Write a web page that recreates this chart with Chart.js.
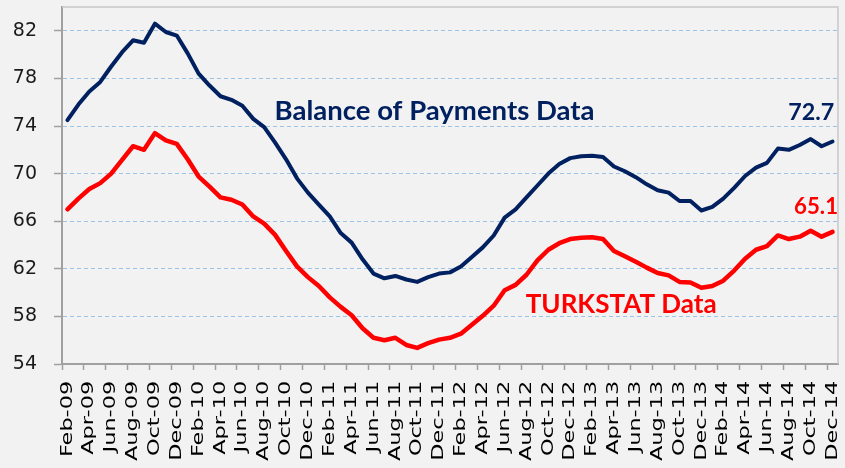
<!DOCTYPE html>
<html><head><meta charset="utf-8">
<script src="https://cdn.jsdelivr.net/npm/chart.js@4.4.1/dist/chart.umd.min.js"></script>
<style>html,body{margin:0;padding:0;background:#f2f2f2;}canvas{display:block;}</style>
</head><body>
<canvas id="c" width="845" height="468"></canvas>
<script>
const months = ['Feb-09','Mar-09','Apr-09','May-09','Jun-09','Jul-09','Aug-09','Sep-09','Oct-09','Nov-09','Dec-09',
'Jan-10','Feb-10','Mar-10','Apr-10','May-10','Jun-10','Jul-10','Aug-10','Sep-10','Oct-10','Nov-10','Dec-10',
'Jan-11','Feb-11','Mar-11','Apr-11','May-11','Jun-11','Jul-11','Aug-11','Sep-11','Oct-11','Nov-11','Dec-11',
'Jan-12','Feb-12','Mar-12','Apr-12','May-12','Jun-12','Jul-12','Aug-12','Sep-12','Oct-12','Nov-12','Dec-12',
'Jan-13','Feb-13','Mar-13','Apr-13','May-13','Jun-13','Jul-13','Aug-13','Sep-13','Oct-13','Nov-13','Dec-13',
'Jan-14','Feb-14','Mar-14','Apr-14','May-14','Jun-14','Jul-14','Aug-14','Sep-14','Oct-14','Nov-14','Dec-14'];

const balanceOfPayments = [74.5,75.8,76.9,77.7,79.0,80.2,81.2,81.0,82.6,81.9,81.6,80.1,
78.4,77.4,76.5,76.2,75.7,74.6,73.9,72.6,71.2,69.6,68.4,67.4,
66.4,65.0,64.2,62.8,61.6,61.2,61.4,61.1,60.9,61.3,61.6,61.7,
62.2,63.0,63.8,64.8,66.3,67.0,68.0,69.0,70.0,70.8,71.3,71.45,
71.5,71.4,70.6,70.2,69.7,69.1,68.6,68.4,67.7,67.7,66.9,67.2,
67.9,68.8,69.8,70.5,70.9,72.1,72.0,72.4,72.9,72.3,72.7];

const turkstat = [67.0,67.9,68.7,69.2,70.0,71.15,72.3,72.0,73.4,72.8,72.5,71.2,
69.75,68.9,68.0,67.8,67.4,66.4,65.8,64.85,63.5,62.2,61.3,60.55,
59.6,58.8,58.1,57.0,56.2,56.0,56.2,55.6,55.35,55.75,56.05,56.2,
56.55,57.3,58.05,58.9,60.2,60.65,61.5,62.7,63.6,64.15,64.5,64.6,
64.65,64.5,63.5,63.05,62.6,62.1,61.65,61.45,60.9,60.85,60.4,60.55,
61.0,61.85,62.85,63.6,63.9,64.8,64.5,64.7,65.2,64.7,65.1];

const yTicks = [54,58,62,66,70,74,78,82];

const NAVY = '#002060', RED = '#ff0000';
const notes = [
  {text:'Balance of Payments Data', color:NAVY, index:18.95, value:74.54, align:'left', width:320},
  {text:'TURKSTAT Data', color:RED, index:41.93, value:58.28, align:'left', width:191},
  {text:'72.7', color:NAVY, index:70.15, value:74.54, align:'right', width:46},
  {text:'65.1', color:RED, index:66.48, value:66.6, align:'left', width:44}
];
const S = 1.4;

const decor = {
  id: 'decor',
  beforeDatasetsDraw(chart) {
    const {ctx, chartArea: a} = chart;
    ctx.save();
    ctx.strokeStyle = '#c8c8c8'; ctx.lineWidth = 1.5;
    ctx.beginPath(); ctx.moveTo(a.left, a.top); ctx.lineTo(a.right, a.top); ctx.lineTo(a.right, a.bottom); ctx.stroke();
    ctx.restore();
  },
  afterDatasetsDraw(chart) {
    const ctx = chart.ctx; const y0 = chart.scales.x.top;
    ctx.save(); ctx.translate(0, y0); ctx.scale(1, S); ctx.translate(0, -y0);
  },
  afterDraw(chart) {
    const ctx = chart.ctx; ctx.restore();
    const xs = chart.scales.x, ys = chart.scales.y;
    notes.forEach(n => {
      ctx.save();
      ctx.font = 'bold 24px Lato';
      const w = ctx.measureText(n.text).width;
      const size = 24 * n.width / w;
      ctx.font = 'bold ' + size.toFixed(2) + 'px Lato';
      ctx.fillStyle = n.color; ctx.textAlign = n.align; ctx.textBaseline = 'alphabetic';
      ctx.fillText(n.text, xs.getPixelForValue(n.index), ys.getPixelForValue(n.value));
      ctx.restore();
    });
  }
};

new Chart(document.getElementById('c'), {
  type: 'line',
  data: {
    labels: months,
    datasets: [
      {label:'Balance of Payments Data', data: balanceOfPayments, borderColor: NAVY, borderWidth: 4, pointRadius: 0, tension: 0, borderJoinStyle:'round', borderCapStyle:'round', fill:false},
      {label:'TURKSTAT Data', data: turkstat, borderColor: RED, borderWidth: 4.5, pointRadius: 0, tension: 0, borderJoinStyle:'round', borderCapStyle:'round', fill:false}
    ]
  },
  options: {
    responsive: false, animation: false,
    layout: {padding: {top: 7, right: 7, left: 0, bottom: 0}},
    plugins: {legend: {display: false}, tooltip: {enabled: false}},
    scales: {
      x: {
        offset: true,
        grid: {offset: true, drawOnChartArea: false, tickLength: 6, tickWidth: 1.5,
               tickColor: (c) => (c.index % 2 === 0 ? '#a0a0a0' : 'rgba(0,0,0,0)')},
        border: {color: '#a0a0a0', width: 2},
        ticks: {z: 1, autoSkip: false, maxRotation: 90, minRotation: 90, padding: 6, color: '#000',
                font: {family: 'DejaVu Sans', size: 16},
                callback: function(v, i) { return i % 2 === 0 ? months[i] : ''; }},
        afterFit: (s) => { s.height = 104; s.paddingLeft = 0; s.paddingRight = 0; s.paddingTop = 0; s.paddingBottom = 0; }
      },
      y: {
        min: 54, max: 84,
        afterBuildTicks: (s) => { s.ticks = yTicks.map(v => ({value: v})); },
        grid: {color: (c) => (c.tick && c.tick.value === 54 ? 'rgba(0,0,0,0)' : '#9dc3e6'), lineWidth: 1,
               tickColor: '#a0a0a0', tickLength: 8, tickWidth: 1.5, tickBorderDash: []},
        border: {color: '#a0a0a0', width: 2, dash: [4, 3]},
        ticks: {padding: 17, color: '#1a1a1a', font: {family: 'DejaVu Sans', size: 19}},
        afterFit: (s) => { s.width = 62; s.paddingTop = 0; s.paddingBottom = 0; s.paddingLeft = 0; s.paddingRight = 0; }
      }
    }
  },
  plugins: [decor]
});
</script>
</body></html>
